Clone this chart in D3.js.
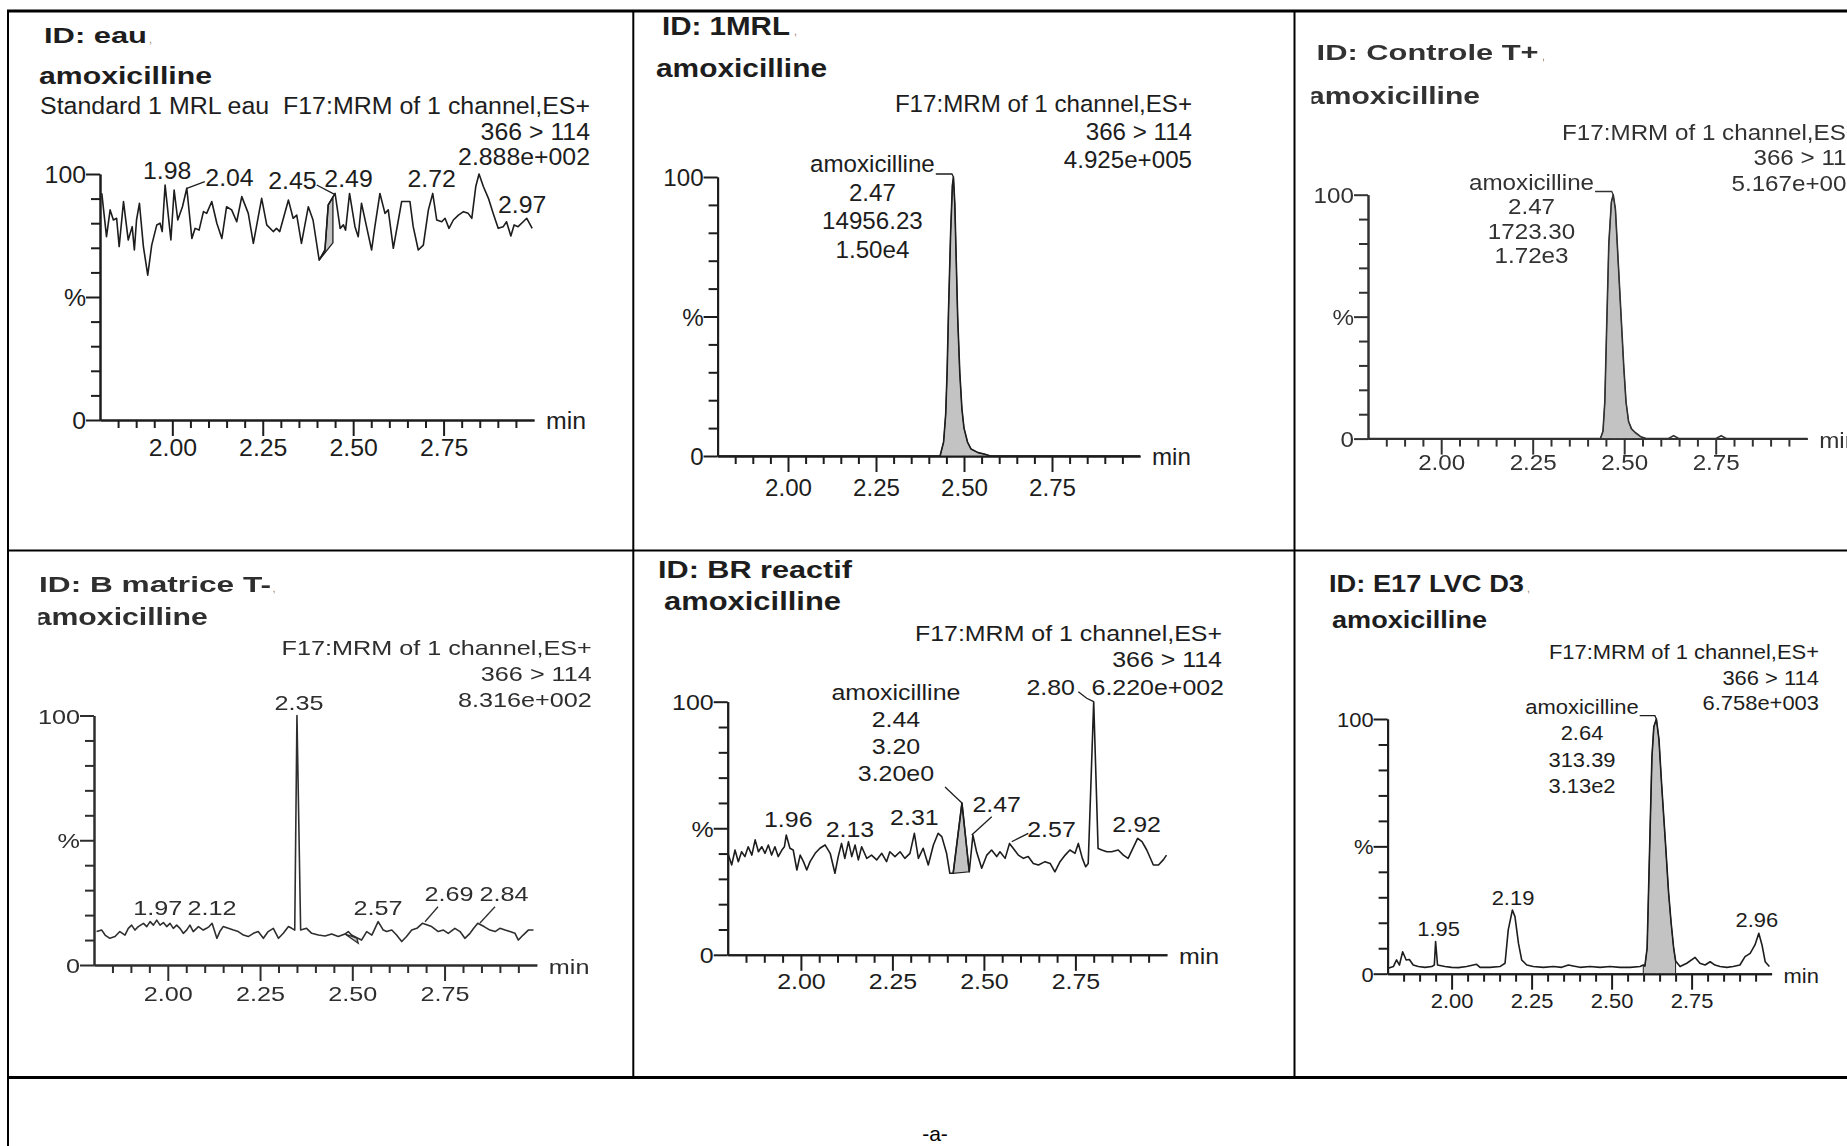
<!DOCTYPE html>
<html>
<head>
<meta charset="utf-8">
<script src="https://cdn.jsdelivr.net/npm/d3@7"></script>
<style>
  html, body { margin: 0; padding: 0; background: #fff; overflow: hidden; }
  svg { display: block; }
  text { font-family: "Liberation Sans", Arial, Helvetica, sans-serif; }
</style>
</head>
<body>
<svg id="fig" width="1847" height="1146"></svg>
<script>
// ---------------- data ----------------
const sampleIds = ["ID: eau", "ID: 1MRL", "ID: Controle T+", "ID: B matrice T-", "ID: BR reactif", "ID: E17 LVC D3"];
const compound = "amoxicilline";
const standardLabel = "Standard 1 MRL eau";
const functionLabel = "F17:MRM of 1 channel,ES+";
const transition = "366 > 114";
const fullScale = ["2.888e+002", "4.925e+005", "5.167e+003", "8.316e+002", "6.220e+002", "6.758e+003"];
const figureTag = "-a-";

const xDomain = [1.80, 3.00];
const xTicksMajor = [2.00, 2.25, 2.50, 2.75];
const xTickLabels = ["2.00", "2.25", "2.50", "2.75"];
const xTicksMinor = [1.85, 1.90, 1.95, 2.05, 2.10, 2.15, 2.20, 2.30, 2.35, 2.40, 2.45,
                     2.55, 2.60, 2.65, 2.70, 2.80, 2.85, 2.90, 2.95];
const yTicksMajor = [0, 50, 100];
const yTickLabels = ["0", "%", "100"];
const yTicksMinor = [10, 20, 30, 40, 60, 70, 80, 90];

// chromatogram traces: [retention time (min), relative intensity (%)]
const traceEau = [
  [1.805,92.1],[1.818,74.5],[1.828,85.4],[1.837,81.3],[1.846,82.0],[1.853,70.5],[1.865,88.8],[1.878,73.2],
  [1.889,78.6],[1.895,69.1],[1.901,81.3],[1.909,88.1],[1.920,70.5],[1.932,58.9],[1.943,71.1],[1.957,79.3],
  [1.966,80.0],[1.972,76.6],[1.980,95.5],[1.996,73.2],[2.005,93.5],[2.015,81.3],[2.028,86.7],[2.040,94.2],
  [2.054,73.8],[2.063,77.9],[2.074,77.2],[2.086,84.7],[2.095,84.0],[2.109,88.8],[2.123,80.0],[2.137,73.8],
  [2.150,86.7],[2.164,85.4],[2.178,80.6],[2.192,90.8],[2.210,84.0],[2.224,71.8],[2.247,90.1],[2.261,79.3],
  [2.279,76.6],[2.288,77.9],[2.297,76.6],[2.321,89.4],[2.334,82.0],[2.344,83.3],[2.357,71.8],[2.376,86.7],
  [2.389,81.3],[2.406,65.0],[2.422,69.1],[2.431,87.4],[2.450,92.1],[2.464,77.9],[2.473,79.3],[2.479,77.2],
  [2.490,92.1],[2.505,78.6],[2.514,74.5],[2.523,88.1],[2.537,78.6],[2.551,69.1],[2.560,78.6],[2.574,92.1],
  [2.588,84.0],[2.597,85.4],[2.611,69.8],[2.625,81.3],[2.634,88.8],[2.657,88.8],[2.666,78.6],[2.680,69.1],
  [2.694,71.1],[2.708,85.4],[2.720,92.1],[2.731,81.3],[2.745,80.6],[2.754,82.0],[2.765,77.9],[2.777,81.3],
  [2.791,83.3],[2.805,84.7],[2.818,84.0],[2.828,82.0],[2.839,94.9],[2.848,100],[2.860,94.9],[2.874,90.1],
  [2.887,84.0],[2.901,77.9],[2.915,78.6],[2.924,80.6],[2.936,74.8],[2.945,79.3],[2.956,78.6],[2.970,80.6],
  [2.980,82.0],[2.995,77.9]
];
const trace1MRL = [
  [1.800,0],[2.432,0],[2.442,5],[2.448,15],[2.452,30],[2.456,52],[2.462,80],[2.467,97],[2.470,100],
  [2.474,90],[2.478,70],[2.482,50],[2.488,30],[2.494,17],[2.500,10],[2.510,5],[2.520,2.5],[2.540,1.2],
  [2.560,0.6],[2.575,0],[3.000,0]
];
const traceControle = [
  [1.800,0],[2.435,0],[2.442,3],[2.447,15],[2.452,45],[2.458,80],[2.465,97],[2.470,100],[2.476,94],
  [2.481,80],[2.487,63],[2.493,46],[2.499,29],[2.505,15],[2.512,7],[2.520,4],[2.530,2.5],[2.545,0.8],
  [2.560,0],[2.620,0],[2.635,1.2],[2.650,0],[2.750,0],[2.765,1.2],[2.780,0],[3.000,0]
];
const traceMatrice = [
  [1.807,13.4],[1.821,14.0],[1.830,12.0],[1.843,10.7],[1.857,11.4],[1.870,13.4],[1.884,12.0],[1.893,14.7],
  [1.902,16.0],[1.911,14.0],[1.920,15.4],[1.934,16.7],[1.943,15.4],[1.952,17.4],[1.961,16.0],[1.970,18.0],
  [1.979,16.0],[1.988,17.0],[1.997,15.4],[2.006,16.7],[2.015,14.7],[2.024,16.0],[2.033,14.7],[2.042,12.7],
  [2.051,14.0],[2.060,16.0],[2.069,13.4],[2.083,15.4],[2.096,14.0],[2.105,14.7],[2.112,15.4],[2.120,16.7],
  [2.133,10.7],[2.141,13.4],[2.150,15.4],[2.164,14.7],[2.178,14.0],[2.191,13.4],[2.205,12.0],[2.218,11.4],
  [2.232,12.7],[2.245,13.4],[2.259,10.7],[2.272,13.4],[2.286,14.7],[2.300,10.7],[2.313,12.7],[2.327,15.4],
  [2.336,14.7],[2.344,14.0],[2.350,100],[2.360,14.0],[2.376,14.7],[2.390,12.7],[2.408,12.0],[2.426,11.6],
  [2.444,12.4],[2.462,11.4],[2.480,12.4],[2.489,13.4],[2.498,12.0],[2.512,10.9],[2.525,10.0],[2.539,13.4],
  [2.553,12.0],[2.570,17.4],[2.584,14.0],[2.593,13.4],[2.607,14.0],[2.620,12.0],[2.634,9.4],[2.647,11.4],
  [2.661,14.0],[2.675,14.7],[2.690,16.7],[2.715,15.4],[2.733,13.4],[2.747,14.0],[2.760,12.7],[2.778,14.7],
  [2.792,13.4],[2.805,10.7],[2.819,12.7],[2.829,14.7],[2.840,16.7],[2.857,15.4],[2.873,14.0],[2.887,13.4],
  [2.900,14.7],[2.914,14.0],[2.927,13.4],[2.941,12.7],[2.950,10.0],[2.963,12.0],[2.977,14.0],[2.991,14.0]
];
const traceReactif = [
  [1.802,39.4],[1.811,35.5],[1.820,41.4],[1.829,36.8],[1.838,40.7],[1.847,38.8],[1.856,42.7],[1.866,39.4],
  [1.875,45.4],[1.884,40.7],[1.893,42.7],[1.902,40.1],[1.911,43.4],[1.920,39.4],[1.929,42.7],[1.938,38.8],
  [1.948,41.4],[1.955,42.7],[1.960,47.3],[1.970,42.1],[1.979,41.4],[1.989,33.5],[1.998,39.4],[2.007,36.8],
  [2.016,33.5],[2.025,36.8],[2.039,40.1],[2.052,42.1],[2.066,43.4],[2.080,40.1],[2.093,32.2],[2.102,38.8],
  [2.111,44.0],[2.120,38.1],[2.130,44.7],[2.139,38.8],[2.148,43.4],[2.157,37.5],[2.166,42.7],[2.180,38.1],
  [2.193,39.4],[2.207,37.5],[2.221,40.1],[2.234,36.8],[2.243,40.7],[2.257,38.8],[2.271,40.7],[2.284,38.1],
  [2.298,40.1],[2.310,48.0],[2.321,38.1],[2.334,42.1],[2.348,35.5],[2.362,43.4],[2.375,48.0],[2.385,46.7],
  [2.398,40.1],[2.407,32.2],[2.416,32.2],[2.440,60.0],[2.460,32.8],[2.470,47.3],[2.480,40.7],[2.494,34.2],
  [2.508,39.4],[2.521,41.4],[2.535,38.8],[2.544,40.7],[2.558,38.1],[2.570,44.0],[2.580,42.1],[2.594,39.4],
  [2.608,38.1],[2.621,38.8],[2.635,36.1],[2.649,35.5],[2.667,36.8],[2.681,36.1],[2.694,32.8],[2.708,36.8],
  [2.722,39.4],[2.735,41.4],[2.749,40.1],[2.758,44.0],[2.769,38.1],[2.778,34.8],[2.785,36.1],[2.800,100],
  [2.812,42.0],[2.822,41.4],[2.836,40.7],[2.849,40.7],[2.867,41.4],[2.881,39.4],[2.894,38.1],[2.920,46.0],
  [2.932,44.7],[2.945,41.4],[2.963,35.5],[2.977,35.5],[2.990,37.5],[2.999,39.4]
];
const traceE17 = [
  [1.802,2.1],[1.818,2.8],[1.828,5.4],[1.837,3.4],[1.847,8.6],[1.858,5.4],[1.868,5.6],[1.880,3.4],
  [1.896,2.8],[1.917,2.5],[1.938,2.8],[1.946,3.4],[1.950,12.6],[1.956,3.4],[1.979,2.8],[2.000,2.5],
  [2.021,2.4],[2.047,2.8],[2.078,3.7],[2.089,2.5],[2.120,2.5],[2.151,2.8],[2.167,4.1],[2.177,17.2],
  [2.190,25.0],[2.198,22.4],[2.209,11.9],[2.219,5.4],[2.235,3.4],[2.255,2.8],[2.287,2.5],[2.318,2.8],
  [2.344,2.5],[2.365,3.4],[2.380,3.0],[2.401,2.5],[2.433,2.8],[2.464,2.5],[2.495,2.8],[2.526,2.5],
  [2.558,2.5],[2.589,2.8],[2.599,3.4],[2.604,3.0],[2.611,10],[2.619,50],[2.626,85],[2.632,97],
  [2.640,100],[2.648,92],[2.656,75],[2.669,50],[2.678,32],[2.686,20],[2.694,10],[2.700,5],
  [2.714,2.8],[2.735,4.1],[2.761,6.4],[2.776,4.1],[2.792,3.4],[2.808,4.7],[2.823,3.4],[2.839,2.8],
  [2.860,2.5],[2.880,2.8],[2.901,3.4],[2.917,6.7],[2.933,8.0],[2.948,11.3],[2.960,15.9],[2.970,11.3],
  [2.980,4.7],[2.993,2.8]
];

// retention times of the labelled peaks
const peaksEau = [1.98, 2.04, 2.45, 2.49, 2.72, 2.97];
const peaks1MRL = [];
const peaksControle = [];
const peaksMatrice = [1.97, 2.12, 2.35, 2.57, 2.69, 2.84];
const peaksReactif = [1.96, 2.13, 2.31, 2.47, 2.57, 2.80, 2.92];
const peaksE17 = [1.95, 2.19, 2.96];

// integrated amoxicilline peaks: [RT, area, height]
const named1MRL = [2.47, "14956.23", "1.50e4"];
const namedControle = [2.47, "1723.30", "1.72e3"];
const namedReactif = [2.44, "3.20", "3.20e0"];
const namedE17 = [2.64, "313.39", "3.13e2"];

// integration areas: closed outlines [RT, %] or RT ranges filled down to zero
const areaEau = [[2.406,65.0],[2.422,69.1],[2.431,87.4],[2.444,90.6],[2.444,72.0]];
const range1MRL = [2.432, 2.575];
const rangeControle = [2.435, 2.560];
const areaMatrice = [[2.480,12.4],[2.516,8.7],[2.512,10.9]];
const areaReactif = [[2.416,32.2],[2.440,60.0],[2.460,32.8]];
const rangeE17 = [2.599, 2.700];

// ---------------- drawing ----------------
const INK = "#1d1d1d";
const FILL = "#c3c3c3";
const svg = d3.select("#fig");

const defs = svg.append("defs");
defs.append("filter").attr("id", "soft")
  .attr("x", "-2%").attr("y", "-2%").attr("width", "104%").attr("height", "104%")
  .append("feGaussianBlur").attr("stdDeviation", 0.55);

// text whose rendered width is fitted to the layout (horizontal stretch)
function fitText(node, w, anchorX, anchor) {
  const natural = node.getComputedTextLength();
  const width = (w == null) ? natural : w;
  let left = anchorX;
  if (anchor === "middle") left = anchorX - width / 2;
  else if (anchor === "end") left = anchorX - width;
  node.setAttribute("text-anchor", "start");
  node.setAttribute("x", left);
  node.setAttribute("textLength", width);
  node.setAttribute("lengthAdjust", "spacingAndGlyphs");
  return width;
}
function txt(g, str, x, y, o) {
  const t = g.append("text")
    .attr("y", y)
    .attr("font-size", o.fs)
    .attr("font-weight", o.bold ? 700 : 400)
    .attr("fill", o.fill || INK)
    .text(str);
  if (o.pre) t.style("white-space", "pre");
  const n = t.node();
  const w = o.w != null ? o.w : n.getComputedTextLength() * (o.sx || 1);
  fitText(n, w, x, o.anchor || "start");
  return t;
}

// table frame
const frame = svg.append("g").attr("stroke", "#000").attr("fill", "none");
const hLines = [[11, 3], [550.5, 2], [1077.5, 3]];
const vLines = [[8, 11, 1146], [633.3, 11, 1077.5], [1294.5, 11, 1077.5]];
hLines.forEach(([yy, sw]) => frame.append("line").attr("x1", 7).attr("x2", 1847).attr("y1", yy).attr("y2", yy).attr("stroke-width", sw));
vLines.forEach(([xx, a, b]) => frame.append("line").attr("x1", xx).attr("x2", xx).attr("y1", a).attr("y2", b).attr("stroke-width", 2));

const panels = [
  { id: sampleIds[0], trace: traceEau, peaks: peaksEau, scaleLabel: fullScale[0], prefix: standardLabel,
    ox: 100, x1: 534, y0: 420, y100: 174, fs: 23, sx: 1.08, tickLabY: 36,
    title: { x: 44, y: 43, w: 103, fs: 21.5 }, comma: 149, comp: { x: 39, y: 84, w: 173, fs: 24 },
    head: { left: 40, right: 590, w: 550, ys: [114, 140, 165] },
    poly: areaEau,
    offs: [[2,-6],[42.7,-2.3,[0,0,18,-6.6]],[-42.6,-4.4,[-18.4,-8.4,0,1.2]],[-1,-6],[-1,-6],[-1,-8.7]] },
  { id: sampleIds[1], trace: trace1MRL, peaks: peaks1MRL, scaleLabel: fullScale[1],
    ox: 717.6, x1: 1140, y0: 456, y100: 177, fs: 24.5, sx: 0.985, tickLabY: 40,
    title: { x: 662, y: 35, w: 128, fs: 26 }, comma: 794, comp: { x: 656, y: 77, w: 171, fs: 26 },
    head: { right: 1192, ys: [111.6, 140, 168] },
    range: range1MRL, named: named1MRL, nl: { dx: -81, dy: -5, gap: 28.7, hook: true }, offs: [] },
  { id: sampleIds[2], trace: traceControle, peaks: peaksControle, scaleLabel: fullScale[2],
    ox: 1368, x1: 1807.2, y0: 438.6, y100: 194.7, fs: 22, sx: 1.1, tickLabY: 31, soft: true, ink: "#333",
    title: { x: 1316.6, y: 59.6, w: 222, fs: 22 }, comma: 1542, comp: { x: 1308, y: 103.5, w: 172, fs: 24.5, clip: 1311.5 },
    head: { right: 1860, ys: [140, 165, 191] },
    range: rangeControle, named: namedControle, nl: { dx: -81.7, dy: -5.2, gap: 24.5, hook: true }, offs: [] },
  { id: sampleIds[3], trace: traceMatrice, peaks: peaksMatrice, scaleLabel: fullScale[3],
    ox: 94, x1: 536.8, y0: 965, y100: 715.5, fs: 21, sx: 1.2, tickLabY: 36, soft: true, ink: "#2e2e2e",
    title: { x: 39, y: 591.5, w: 232, fs: 21.6 }, comma: 272.6, comp: { x: 34.7, y: 625, w: 173, fs: 24, clip: 38.5 },
    head: { right: 591.8, ys: [655, 681, 707] },
    poly: areaMatrice,
    offs: [[1,-5],[0,-8],[2,-5.5],[0,-6.6],[26.6,-22,[2.6,-1.6,15.6,-16.6]],[26.2,-22,[2.2,-0.3,17.2,-16.6]]] },
  { id: sampleIds[4], trace: traceReactif, peaks: peaksReactif, scaleLabel: fullScale[4],
    ox: 727.7, x1: 1166.9, y0: 954.8, y100: 701.7, fs: 21.5, sx: 1.16, tickLabY: 34,
    title: { x: 658, y: 577.7, w: 194, fs: 24 }, comma: null, comp: { x: 664, y: 610.4, w: 177, fs: 25 },
    head: { right: 1222, ys: [641.4, 667, 695], hideLast: true },
    poly: areaReactif, named: namedReactif, nl: { dx: -66, dy: -102.9, gap: 27, lead: [-16.9, -15.9, 0, 0] },
    offs: [[2,-8.4],[1.5,-5],[0,-8],[23.8,-23.4,[-1.2,0,18.8,-18.4]],[42,-6.7,[2.2,-1.7,18.8,-10.1]],
           [-43,-6.7,[-15.4,-10,-7,-3.4,0,0]],[-1,-6.7]] },
  { id: sampleIds[5], trace: traceE17, peaks: peaksE17, scaleLabel: fullScale[5],
    ox: 1387.6, x1: 1771.6, y0: 973.7, y100: 719, fs: 20.5, sx: 1.07, tickLabY: 34,
    title: { x: 1329, y: 591.5, w: 195, fs: 23 }, comma: 1527, comp: { x: 1332, y: 627.6, w: 155, fs: 23 },
    head: { right: 1819, ys: [658.6, 684.5, 710] },
    range: rangeE17, named: namedE17, nl: { dx: -74.4, dy: -5.3, gap: 26.4, hook: true },
    offs: [[3,-6],[0.6,-5],[-2,-6]] }
];

panels.forEach((p, pi) => {
  const g = svg.append("g");
  if (p.soft) g.attr("filter", "url(#soft)");
  const ink = p.ink || INK;
  const T = (str, x, y, o) => txt(g, str, x, y, Object.assign({ fs: p.fs, sx: p.sx, fill: ink }, o));

  const x = d3.scaleLinear().domain(xDomain).range([p.ox, p.x1]);
  const y = d3.scaleLinear().domain([0, 100]).range([p.y0, p.y100]);

  // titles
  T(p.id, p.title.x, p.title.y, { bold: true, fs: p.title.fs, w: p.title.w });
  if (p.comma != null) txt(g, ",", p.comma, p.title.y, { fs: 11, fill: "#a4846c" });
  const comp = T(compound, p.comp.x, p.comp.y, { bold: true, fs: p.comp.fs, w: p.comp.w });
  if (p.comp.clip) {
    const cid = "clip" + pi;
    defs.append("clipPath").attr("id", cid).append("rect")
      .attr("x", p.comp.clip).attr("y", p.comp.y - 40).attr("width", 400).attr("height", 60);
    comp.attr("clip-path", `url(#${cid})`);
  }

  // function / transition / full-scale header
  if (p.prefix) T(p.prefix + "  " + functionLabel, p.head.left, p.head.ys[0], { w: p.head.w, pre: true });
  else T(functionLabel, p.head.right, p.head.ys[0], { anchor: "end" });
  T(transition, p.head.right, p.head.ys[1], { anchor: "end" });
  T(p.scaleLabel, p.head.right + (p.head.hideLast ? 2 : 0), p.head.ys[2], { anchor: "end" });

  // axes
  const styleAxis = sel => {
    sel.attr("font-size", null).attr("font-family", null).attr("fill", null);
    sel.selectAll("path, line").attr("stroke", ink).attr("stroke-width", 2);
  };
  const gxMinor = g.append("g").attr("transform", `translate(0,${p.y0})`)
    .call(d3.axisBottom(x).tickValues(xTicksMinor).tickSize(8).tickSizeOuter(0).tickFormat(""));
  const gxMajor = g.append("g").attr("transform", `translate(0,${p.y0})`)
    .call(d3.axisBottom(x).tickValues(xTicksMajor).tickSize(16).tickSizeOuter(0)
      .tickFormat((d, i) => xTickLabels[i]));
  const gyMinor = g.append("g").attr("transform", `translate(${p.ox},0)`)
    .call(d3.axisLeft(y).tickValues(yTicksMinor).tickSize(9).tickSizeOuter(0).tickFormat(""));
  const gyMajor = g.append("g").attr("transform", `translate(${p.ox},0)`)
    .call(d3.axisLeft(y).tickValues(yTicksMajor).tickSize(14).tickSizeOuter(0)
      .tickFormat((d, i) => yTickLabels[i]));
  [gxMinor, gxMajor, gyMinor, gyMajor].forEach(styleAxis);
  gxMinor.selectAll("text").remove();
  gyMinor.selectAll("text").remove();
  gxMajor.selectAll("text").each(function () {
    this.setAttribute("font-size", p.fs);
    this.setAttribute("fill", ink);
    this.removeAttribute("dy");
    this.setAttribute("y", p.tickLabY);
    fitText(this, this.getComputedTextLength() * p.sx, 0, "middle");
  });
  gyMajor.selectAll("text").each(function () {
    this.setAttribute("font-size", p.fs);
    this.setAttribute("fill", ink);
    this.removeAttribute("dy");
    this.setAttribute("y", 0.36 * p.fs);
    fitText(this, this.getComputedTextLength() * p.sx, -14, "end");
  });
  T("min", p.x1 + 12, p.y0 + 9, {});

  // integration fills
  if (p.range) {
    const seg = p.trace.filter(d => d[0] >= p.range[0] - 1e-9 && d[0] <= p.range[1] + 1e-9);
    g.append("path").datum(seg)
      .attr("d", d3.area().x(d => x(d[0])).y0(y(0)).y1(d => y(d[1])))
      .attr("fill", FILL).attr("stroke", ink).attr("stroke-width", 1);
  }
  if (p.poly) {
    g.append("path").datum(p.poly)
      .attr("d", d3.line().x(d => x(d[0])).y(d => y(d[1]))(p.poly) + "Z")
      .attr("fill", FILL).attr("stroke", ink).attr("stroke-width", 1.3);
  }

  // trace
  g.append("path").datum(p.trace)
    .attr("d", d3.line().x(d => x(d[0])).y(d => y(d[1])))
    .attr("fill", "none").attr("stroke", ink).attr("stroke-width", 1.6)
    .attr("stroke-linejoin", "round");

  const apex = rt => {
    const pt = p.trace.find(d => Math.abs(d[0] - rt) < 1e-6);
    return [x(rt), y(pt ? pt[1] : 0)];
  };
  const leader = (ax, ay, rel) => {
    const pts = [];
    for (let k = 0; k < rel.length; k += 2) pts.push([ax + rel[k], ay + rel[k + 1]]);
    g.append("path").attr("d", d3.line()(pts)).attr("fill", "none")
      .attr("stroke", ink).attr("stroke-width", 1.3);
  };

  // retention time labels
  p.peaks.forEach((rt, i) => {
    const [ax, ay] = apex(rt);
    const o = p.offs[i] || [0, -6];
    T(rt.toFixed(2), ax + o[0], ay + o[1], { anchor: "middle" });
    if (o[2]) leader(ax, ay, o[2]);
  });

  // named (integrated) peak annotation
  if (p.named) {
    const [rt, area, height] = p.named;
    const [ax, ay] = apex(rt);
    const cx = ax + p.nl.dx, by = ay + p.nl.dy;
    const nameText = T(compound, cx, by, { anchor: "middle" });
    [rt.toFixed(2), area, height].forEach((s, k) => T(s, cx, by + p.nl.gap * (k + 1), { anchor: "middle" }));
    if (p.nl.hook) {
      const nameRight = +nameText.attr("x") + (+nameText.attr("textLength"));
      g.append("path")
        .attr("d", d3.line()([[nameRight + 1, by + 2], [ax - 1.5, by + 2], [ax, ay]]))
        .attr("fill", "none").attr("stroke", ink).attr("stroke-width", 1.3);
    }
    if (p.nl.lead) leader(ax, ay, p.nl.lead);
  }
});

// figure tag in the bottom row
txt(svg, figureTag, 935, 1141, { fs: 21, anchor: "middle", fill: "#000" });
</script>
</body>
</html>
